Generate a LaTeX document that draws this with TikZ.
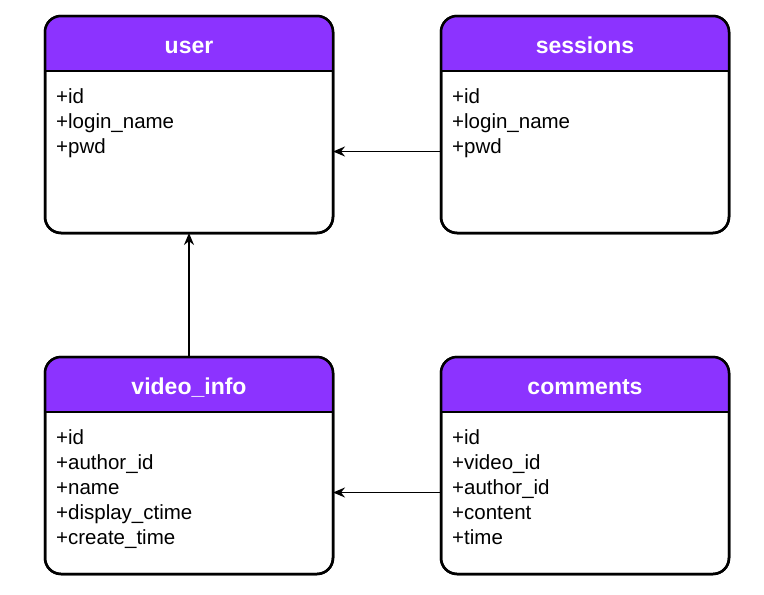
\documentclass[tikz,border=0pt]{standalone}
\usepackage{fontspec}
\setmainfont{Liberation Sans}
\usetikzlibrary{positioning,arrows.meta}
\definecolor{hdrpurple}{HTML}{8C33FF}
\tikzset{
  table/.style={draw, line width=2.5pt, rounded corners=16pt, outer sep=0pt,
    minimum width=288pt, minimum height=217pt, inner sep=0pt},
  title/.style={anchor=base, text=white, inner sep=0pt, font=\fontsize{23}{26}\selectfont\bfseries},
  fields/.style={anchor=north west, align=left, inner sep=0pt,
    font=\fontsize{20.5}{25}\selectfont},
  link/.style={-{Stealth[length=12pt,width=10pt]}, line width=1.5pt}
}
\begin{document}
\begin{tikzpicture}[x=1pt,y=-1pt]
    \useasboundingbox (0,0) rectangle (764,595);
    % tables
    \node[table] (user) at (189,124.5) {};
    \node[table, right=108pt of user] (sessions) {};
    \node[table, below=124pt of user] (video) {};
    \node[table, right=108pt of video] (comments) {};
    % headers
    \foreach \t in {user,sessions,video,comments} {
      \coordinate (\t-hl) at ([shift={(0,55)}]\t.north west);
      \coordinate (\t-hr) at ([shift={(0,55)}]\t.north east);
      \begin{scope}
        \clip[rounded corners=16pt] (\t.north west) rectangle (\t.south east);
        \fill[hdrpurple] (\t.north west) rectangle (\t-hr);
      \end{scope}
      \draw[line width=2.5pt, rounded corners=16pt] (\t.north west) rectangle (\t.south east);
      \draw[line width=2pt] (\t-hl) -- (\t-hr);
    }
    % titles
    \node[title] (user-title) at ([shift={(0,37)}]user.north) {user};
    \node[title] (sessions-title) at ([shift={(0,37)}]sessions.north) {sessions};
    \node[title] (video-title) at ([shift={(0,37)}]video.north) {video\_info};
    \node[title] (comments-title) at ([shift={(0,37)}]comments.north) {comments};
    % fields
    \node[fields] (user-fields) at ([shift={(11,72)}]user.north west)
      {+id\\+login\_name\\+pwd};
    \node[fields] (sessions-fields) at ([shift={(11,72)}]sessions.north west)
      {+id\\+login\_name\\+pwd};
    \node[fields] (video-fields) at ([shift={(11,72)}]video.north west)
      {+id\\+author\_id\\+name\\+display\_ctime\\+create\_time};
    \node[fields] (comments-fields) at ([shift={(11,72)}]comments.north west)
      {+id\\+video\_id\\+author\_id\\+content\\+time};
    % relations
    \draw[link] ([yshift=-27pt]sessions.west) -- ([yshift=-27pt]user.east);
    \draw[link] (video.north) -- (user.south);
    \draw[link] ([yshift=-27pt]comments.west) -- ([yshift=-27pt]video.east);
\end{tikzpicture}
\end{document}
